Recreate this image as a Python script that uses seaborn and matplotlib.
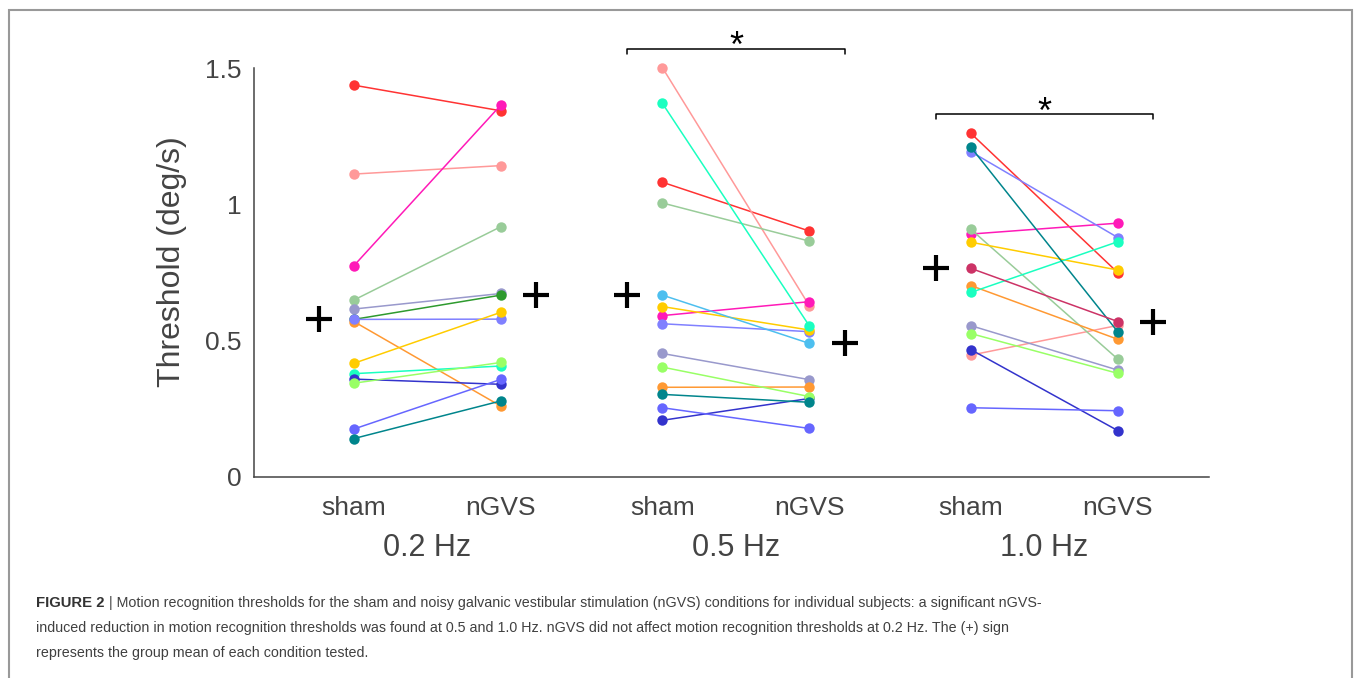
import numpy as np
import pandas as pd
import matplotlib
matplotlib.use("Agg")
import matplotlib.pyplot as plt
from matplotlib.patches import Rectangle
import seaborn as sns

# subject colours (one colour per subject, as in the figure)
subject_colors = {
    "S1": "#ff3333", "S2": "#ff9999", "S3": "#ff1ab8", "S4": "#99cc99",
    "S5": "#9999cc", "S6": "#2e9a2e", "S7": "#ff9933", "S8": "#8080ff",
    "S9": "#ffcc00", "S10": "#1affc0", "S11": "#3333cc", "S12": "#99ff66",
    "S13": "#6666ff", "S14": "#00858c", "S15": "#4dbfef", "S16": "#cc3366",
}

freqs = ["0.2 Hz", "0.5 Hz", "1.0 Hz"]
conditions = ["sham", "nGVS"]

subj_02 = ["S1", "S2", "S3", "S4", "S5", "S6", "S7", "S8", "S9", "S10", "S11", "S12", "S13", "S14"]
sham_02 = [1.437, 1.111, 0.775, 0.649, 0.616, 0.578, 0.570, 0.578, 0.417, 0.379, 0.359, 0.344, 0.176, 0.141]
ngvs_02 = [1.343, 1.142, 1.364, 0.918, 0.673, 0.667, 0.260, 0.579, 0.604, 0.407, 0.340, 0.420, 0.358, 0.279]

subj_05 = ["S2", "S10", "S1", "S4", "S15", "S9", "S3", "S8", "S5", "S12", "S7", "S14", "S13", "S11"]
sham_05 = [1.501, 1.370, 1.081, 1.005, 0.667, 0.625, 0.592, 0.562, 0.453, 0.403, 0.329, 0.303, 0.254, 0.208]
ngvs_05 = [0.628, 0.554, 0.902, 0.865, 0.490, 0.539, 0.643, 0.533, 0.357, 0.295, 0.330, 0.274, 0.178, 0.288]

subj_10 = ["S1", "S14", "S8", "S4", "S3", "S9", "S16", "S7", "S10", "S5", "S12", "S11", "S2", "S13"]
sham_10 = [1.260, 1.209, 1.193, 0.908, 0.891, 0.861, 0.765, 0.702, 0.677, 0.555, 0.526, 0.467, 0.447, 0.254]
ngvs_10 = [0.749, 0.532, 0.878, 0.432, 0.931, 0.759, 0.570, 0.505, 0.863, 0.392, 0.380, 0.170, 0.556, 0.243]

significant = [False, True, True]

caption_bold = "FIGURE 2"
caption_rest = (" | Motion recognition thresholds for the sham and noisy galvanic vestibular stimulation (nGVS) conditions for individual subjects: a significant nGVS-",
                "induced reduction in motion recognition thresholds was found at 0.5 and 1.0 Hz. nGVS did not affect motion recognition thresholds at 0.2 Hz. The (+) sign",
                "represents the group mean of each condition tested.")

# layout: x position of each freq group (sham at base, nGVS at base+1)
group_base = [1.0, 3.1, 5.2]
mean_off = 0.24

rows = []
for f, base, subj, sh, ng in zip(freqs, group_base, [subj_02, subj_05, subj_10],
                                [sham_02, sham_05, sham_10], [ngvs_02, ngvs_05, ngvs_10]):
    for s, a, b in zip(subj, sh, ng):
        rows.append({"freq": f, "subject": s, "cond": "sham", "x": base, "thr": a})
        rows.append({"freq": f, "subject": s, "cond": "nGVS", "x": base + 1, "thr": b})
df = pd.DataFrame(rows)

sns.set_style("white")
plt.rcParams["font.family"] = ["Liberation Sans", "DejaVu Sans"]

fig = plt.figure(figsize=(13.57, 6.78), dpi=100)
ax = fig.add_axes([254 / 1357, 1 - 477 / 678, 955 / 1357, 409 / 678])

sns.lineplot(data=df, x="x", y="thr", hue="subject", units="freq", estimator=None,
             palette=subject_colors, marker="o", markersize=7.5, markeredgewidth=0,
             linewidth=1.1, legend=False, ax=ax, clip_on=False)

# group means
means = df.groupby(["freq", "cond"], sort=False)["thr"].mean().reset_index()
means["x"] = [b + d for b in group_base for d in (-mean_off, 1 + mean_off)]
sns.scatterplot(data=means, x="x", y="thr", marker="+", s=330, color="black",
                linewidth=3, ax=ax, clip_on=False, zorder=5)

# significance brackets
for sig, base in zip(significant, group_base):
    if not sig:
        continue
    x0, x1 = base - mean_off, base + 1 + mean_off
    top = df[df["x"].isin([base, base + 1])]["thr"].max()
    yb = top + 0.07
    ax.plot([x0, x0, x1, x1], [yb - 0.018, yb, yb, yb - 0.018], color="black", lw=1.1, clip_on=False)
    ax.text((x0 + x1) / 2, yb + 0.005, "*", ha="center", va="center", fontsize=26, color="black")

ax.set_xlim(1 - 0.68, 6.2 + 0.62)
ax.set_ylim(0, 1.5)
ax.set_yticks([0, 0.5, 1, 1.5], ["0", "0.5", "1", "1.5"])
ax.set_xticks([b + d for b in group_base for d in (0, 1)], conditions * 3)
sns.despine(ax=ax)
for sp in ["left", "bottom"]:
    ax.spines[sp].set_color("#444444")
    ax.spines[sp].set_linewidth(1.1)
ax.tick_params(axis="both", direction="in", length=13, width=1.1, color="#444444",
               labelcolor="#444444")
ax.tick_params(axis="y", labelsize=19, pad=9)
ax.tick_params(axis="x", labelsize=19, pad=14)
ax.set_xlabel("")
ax.set_ylabel("Threshold (deg/s)", fontsize=23, color="#444444")
ax.yaxis.set_label_coords(-0.07, 0.526)

for f, base in zip(freqs, group_base):
    ax.text(base + 0.5, -0.174, f, transform=ax.get_xaxis_transform(),
            ha="center", va="center", fontsize=22, color="#444444")

# outer frame
fig.patches.append(Rectangle((9 / 1357, -0.1), (1352 - 9) / 1357, 1 - 10 / 678 + 0.1,
                             transform=fig.transFigure, fill=False, edgecolor="#999999",
                             linewidth=1.5, figure=fig))

# caption
cap_size = 10.3
fig.canvas.draw()
t0 = fig.text(36 / 1357, 1 - 603 / 678, caption_bold, fontsize=cap_size + 0.4, fontweight="bold",
              color="#333333", va="center")
fig.canvas.draw()
bb = t0.get_window_extent()
fig.text(bb.x1 / 1357, 1 - 603 / 678, caption_rest[0], fontsize=cap_size, color="#404040",
         va="center")
fig.text(36 / 1357, 1 - 628 / 678, caption_rest[1], fontsize=cap_size, color="#404040",
         va="center")
fig.text(36 / 1357, 1 - 653 / 678, caption_rest[2], fontsize=cap_size, color="#404040",
         va="center")

fig.savefig("out.png", dpi=100)
